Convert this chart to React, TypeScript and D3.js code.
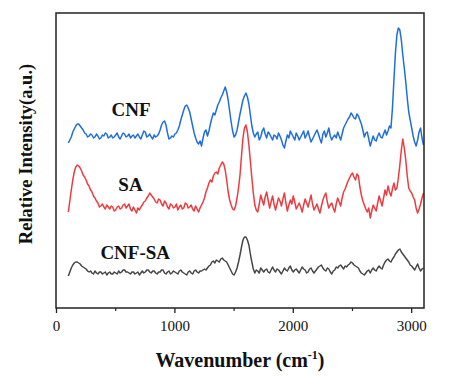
import React from "react";
import * as d3 from "d3";

const wavenumbers = [
  100, 112.5, 125, 137.5, 150, 162.5, 175, 187.5, 200, 212.5, 225, 237.5, 250, 262.5, 275, 287.5,
  300, 312.5, 325, 337.5, 350, 362.5, 375, 387.5, 400, 412.5, 425, 437.5, 450, 462.5, 475, 487.5,
  500, 512.5, 525, 537.5, 550, 562.5, 575, 587.5, 600, 612.5, 625, 637.5, 650, 662.5, 675, 687.5,
  700, 712.5, 725, 737.5, 750, 762.5, 775, 787.5, 800, 812.5, 825, 837.5, 850, 862.5, 875, 887.5,
  900, 912.5, 925, 937.5, 950, 962.5, 975, 987.5, 1000, 1012.5, 1025, 1037.5, 1050, 1062.5, 1075, 1087.5,
  1100, 1112.5, 1125, 1137.5, 1150, 1162.5, 1175, 1187.5, 1200, 1212.5, 1225, 1237.5, 1250, 1262.5, 1275, 1287.5,
  1300, 1312.5, 1325, 1337.5, 1350, 1362.5, 1375, 1387.5, 1400, 1412.5, 1425, 1437.5, 1450, 1462.5, 1475, 1487.5,
  1500, 1512.5, 1525, 1537.5, 1550, 1562.5, 1575, 1587.5, 1600, 1612.5, 1625, 1637.5, 1650, 1662.5, 1675, 1687.5,
  1700, 1712.5, 1725, 1737.5, 1750, 1762.5, 1775, 1787.5, 1800, 1812.5, 1825, 1837.5, 1850, 1862.5, 1875, 1887.5,
  1900, 1912.5, 1925, 1937.5, 1950, 1962.5, 1975, 1987.5, 2000, 2012.5, 2025, 2037.5, 2050, 2062.5, 2075, 2087.5,
  2100, 2112.5, 2125, 2137.5, 2150, 2162.5, 2175, 2187.5, 2200, 2212.5, 2225, 2237.5, 2250, 2262.5, 2275, 2287.5,
  2300, 2312.5, 2325, 2337.5, 2350, 2362.5, 2375, 2387.5, 2400, 2412.5, 2425, 2437.5, 2450, 2462.5, 2475, 2487.5,
  2500, 2512.5, 2525, 2537.5, 2550, 2562.5, 2575, 2587.5, 2600, 2612.5, 2625, 2637.5, 2650, 2662.5, 2675, 2687.5,
  2700, 2712.5, 2725, 2737.5, 2750, 2762.5, 2775, 2787.5, 2800, 2812.5, 2825, 2837.5, 2850, 2862.5, 2875, 2887.5,
  2900, 2912.5, 2925, 2937.5, 2950, 2962.5, 2975, 2987.5, 3000, 3012.5, 3025, 3037.5, 3050, 3062.5, 3075, 3087.5,
  3100,
];

// Relative intensity (arbitrary units, stacked offsets included)
const cnf = [
  165, 168, 171, 176, 179, 182, 184, 184, 182, 180, 178, 175, 174, 171, 172, 174,
  173, 170, 171, 174, 172, 169, 170, 173, 172, 175, 174, 170, 171, 173, 170, 171,
  173, 175, 171, 169, 172, 175, 174, 171, 172, 174, 170, 172, 173, 170, 172, 174,
  171, 169, 173, 177, 176, 171, 172, 174, 171, 169, 173, 171, 172, 174, 178, 183,
  186, 187, 183, 175, 169, 170, 172, 171, 174, 175, 178, 182, 188, 193, 198, 202,
  203, 200, 196, 189, 182, 175, 170, 166, 164, 167, 162, 170, 176, 178, 172, 177,
  184, 190, 195, 193, 198, 203, 206, 210, 213, 217, 221, 216, 208, 197, 186, 177,
  171, 173, 178, 186, 194, 201, 208, 212, 215, 211, 204, 193, 182, 175, 171, 174,
  176, 168, 171, 177, 180, 174, 170, 176, 174, 171, 168, 173, 172, 169, 175, 172,
  168, 163, 160, 167, 173, 170, 177, 174, 171, 168, 175, 172, 168, 171, 174, 177,
  170, 173, 177, 171, 166, 169, 172, 175, 178, 174, 169, 165, 174, 177, 171, 175,
  180, 172, 168, 171, 173, 170, 176, 172, 168, 174, 180, 183, 186, 189, 191, 195,
  193, 190, 189, 194, 192, 188, 184, 178, 171, 175, 176, 169, 162, 167, 172, 168,
  167, 172, 175, 171, 170, 174, 178, 173, 177, 182, 180, 200, 228, 255, 273, 280,
  278, 268, 253, 240, 226, 210, 196, 188, 180, 172, 166, 162, 168, 176, 180, 170,
  163,
];

const sa = [
  96, 107, 118, 128, 136, 141, 143, 142, 140, 137, 133, 131, 128, 124, 122, 118,
  116, 112, 110, 107, 105, 101, 102, 104, 101, 99, 103, 101, 99, 102, 101, 97,
  98, 101, 102, 99, 100, 103, 104, 100, 102, 104, 99, 97, 101, 98, 95, 100,
  98, 101, 103, 106, 107, 110, 112, 115, 113, 111, 109, 106, 105, 109, 108, 104,
  102, 107, 105, 101, 99, 104, 103, 100, 101, 104, 98, 101, 103, 99, 100, 105,
  104, 100, 101, 103, 99, 97, 102, 99, 96, 100, 103, 106, 110, 116, 120, 125,
  128, 126, 132, 135, 136, 134, 140, 143, 146, 144, 138, 128, 116, 108, 103, 99,
  98, 102, 110, 120, 133, 152, 170, 180, 183, 176, 163, 147, 130, 115, 103, 98,
  96, 104, 113, 108, 103, 111, 116, 108, 100, 106, 112, 104, 98, 104, 110, 107,
  102, 109, 115, 105, 97, 103, 108, 104, 112, 106, 99, 102, 105, 101, 96, 103,
  109, 105, 101, 107, 113, 104, 98, 101, 104, 99, 95, 102, 108, 112, 115, 106,
  100, 103, 105, 100, 96, 104, 110, 106, 102, 110, 116, 119, 123, 127, 130, 133,
  135, 131, 128, 134, 132, 121, 113, 107, 103, 99, 96, 100, 90, 97, 103, 100,
  97, 105, 112, 107, 102, 110, 118, 113, 122, 116, 112, 119, 125, 118, 120, 130,
  143, 158, 169, 160, 148, 132, 120, 117, 115, 111, 108, 100, 95, 99, 104, 110,
  115,
];

const cnfSa = [
  32, 36, 40, 43, 45, 46, 46, 45, 44, 42, 41, 40, 39, 37, 36, 37,
  35, 34, 37, 35, 34, 36, 36, 34, 35, 36, 33, 35, 36, 34, 34, 36,
  35, 34, 37, 35, 36, 38, 38, 36, 36, 35, 34, 36, 36, 34, 35, 36,
  33, 35, 37, 35, 36, 38, 38, 36, 35, 37, 37, 35, 34, 36, 36, 38,
  38, 35, 34, 36, 37, 34, 35, 37, 36, 35, 34, 37, 38, 36, 35, 34,
  33, 36, 37, 35, 34, 37, 38, 36, 35, 37, 37, 38, 39, 38, 40, 42,
  43, 46, 47, 45, 48, 47, 46, 49, 50, 48, 47, 46, 43, 40, 37, 34,
  33, 36, 40, 46, 53, 61, 68, 71, 71, 68, 63, 54, 46, 39, 35, 38,
  37, 35, 40, 38, 36, 38, 39, 36, 35, 38, 41, 38, 36, 39, 38, 36,
  34, 37, 40, 38, 37, 40, 42, 38, 36, 38, 39, 37, 35, 38, 41, 39,
  38, 35, 36, 39, 40, 37, 35, 37, 39, 41, 42, 43, 40, 38, 37, 40,
  39, 36, 34, 37, 38, 41, 40, 42, 43, 41, 39, 42, 41, 43, 44, 46,
  45, 43, 42, 41, 40, 37, 35, 34, 33, 35, 37, 38, 35, 38, 40, 38,
  37, 40, 42, 40, 39, 43, 46, 48, 49, 47, 46, 49, 51, 54, 56, 58,
  59, 56, 54, 52, 50, 48, 46, 43, 42, 40, 38, 41, 44, 40, 37, 39,
  40,
];

const seriesNames = ["CNF", "SA", "CNF-SA"];
const seriesColors = ["#1f6fdb", "#ee3b40", "#464646"];
const xTicks = [0, 1000, 2000, 3000];
const xMinorTicks = [500, 1500, 2500];

export default function App() {
  const W = 451;
  const H = 382;
  const left = 56;
  const right = 424;
  const top = 13;
  const bottom = 308;

  const x = d3.scaleLinear().domain([0, 3104]).range([left + 0.5, right]);
  const y = d3.scaleLinear().domain([0, 295]).range([bottom, top]);

  const line = d3
    .line<number>()
    .x((_, i) => x(wavenumbers[i]))
    .y((v) => y(v));

  const all = [cnf, sa, cnfSa];
  const labelPos = [
    { wn: 630, v: 192 },
    { wn: 625, v: 117 },
    { wn: 665, v: 49 },
  ];

  const font = "'Liberation Serif', 'Times New Roman', serif";

  return (
    <svg
      width={W}
      height={H}
      style={{ position: "absolute", left: 0, top: 0, background: "#fff" }}
      fontFamily={font}
    >
      <rect x={0} y={0} width={W} height={H} fill="#fff" />
      {all.map((s, i) => (
        <path
          key={seriesNames[i]}
          d={line(s) || ""}
          fill="none"
          stroke={seriesColors[i]}
          strokeWidth={1.5}
          strokeLinejoin="round"
        />
      ))}
      {seriesNames.map((n, i) => (
        <text
          key={n}
          x={x(labelPos[i].wn)}
          y={y(labelPos[i].v)}
          textAnchor="middle"
          fontWeight="bold"
          fontSize={19}
          fill="#111"
        >
          {n}
        </text>
      ))}
      <rect
        x={left}
        y={top}
        width={right - left}
        height={bottom - top}
        fill="none"
        stroke="#222"
        strokeWidth={1.5}
      />
      {xTicks.map((t) => (
        <g key={t}>
          <line x1={x(t)} x2={x(t)} y1={bottom} y2={bottom + 5} stroke="#222" strokeWidth={1.3} />
          <text x={x(t)} y={331} textAnchor="middle" fontSize={15} fill="#111">
            {t}
          </text>
        </g>
      ))}
      {xMinorTicks.map((t) => (
        <line key={t} x1={x(t)} x2={x(t)} y1={bottom} y2={bottom + 3} stroke="#222" strokeWidth={1.2} />
      ))}
      <text x={(left + right) / 2} y={367} textAnchor="middle" fontSize={20} fontWeight="bold" fill="#111">
        Wavenumber (cm<tspan dy={-8} fontSize={12}>-1</tspan>
        <tspan dy={8}>)</tspan>
      </text>
      <text
        transform={`translate(32, 154) rotate(-90)`}
        textAnchor="middle"
        fontSize={18.5}
        fontWeight="bold"
        fill="#111"
      >
        Relative Intensity(a.u.)
      </text>
    </svg>
  );
}
